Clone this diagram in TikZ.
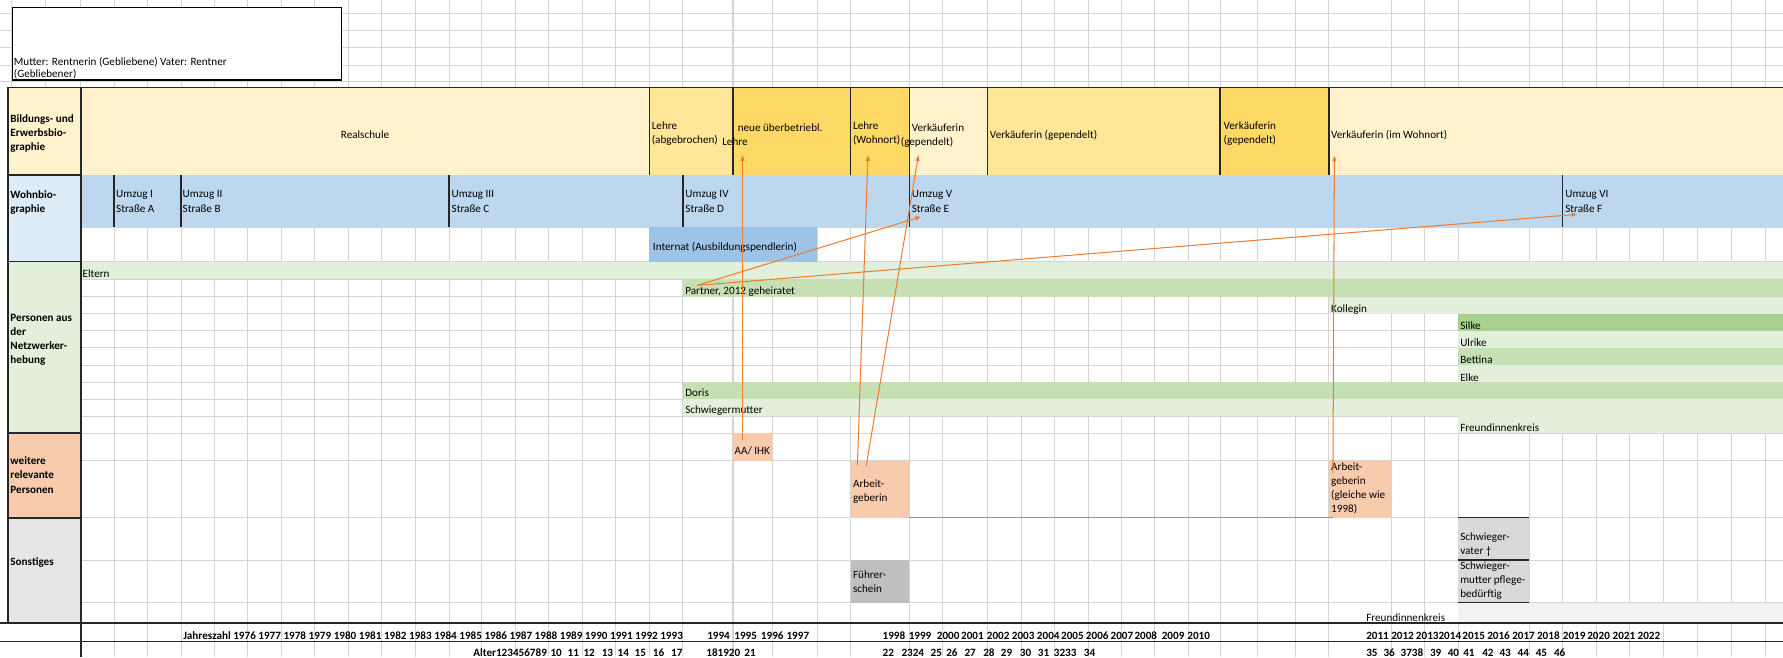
\documentclass[tikz,border=0pt]{standalone}
\usepackage{fontspec}
\setmainfont{Carlito}
\usetikzlibrary{arrows.meta}

\definecolor{gelbHell}{HTML}{FFF2CC}
\definecolor{gelbMittel}{HTML}{FFE699}
\definecolor{gelbGold}{HTML}{FFD966}
\definecolor{blauHell}{HTML}{DDEBF7}
\definecolor{blauWohn}{HTML}{BDD7EE}
\definecolor{blauInternat}{HTML}{9DC3E6}
\definecolor{gruenHell}{HTML}{E2EFDA}
\definecolor{gruenMittel}{HTML}{C6E0B4}
\definecolor{gruenDunkel}{HTML}{A9D08E}
\definecolor{orangeHell}{HTML}{F8CBAD}
\definecolor{pfeilOrange}{HTML}{ED7D31}
\definecolor{grauLabel}{HTML}{E7E6E6}
\definecolor{grauBox}{HTML}{D9D9D9}
\definecolor{grauDunkel}{HTML}{BFBFBF}
\definecolor{grauBand}{HTML}{F2F2F2}
\definecolor{gitterGrau}{HTML}{D4D4D4}

\newcommand{\zellfont}{\fontsize{9.8}{12.5}\selectfont}
\newcommand{\spalten}{71,100.4,129.8,159.2,188.6,218,247.4,276.8,306.2,335.6,365,395,423.8,453.2,482.6,512,541.4,571,600.5,644.6,679,718.5,748,799.6,829,868.4,898,927.4,957,986,1015.6,1045,1073,1105.5,1139,1168.6,1223.3,1252.7,1282.3,1345,1374.2,1403.7,1433,1463,1492.4,1522.5,1552.8}
\newcommand{\zeilen}{200,230,245.7,260.9,276,291,306,321,336,351,366,381,405.3,455.3,492.5,530}

\tikzset{
  txt/.style={inner sep=0pt, anchor=north west, align=left, yshift=5.5pt,
    font=\zellfont, execute at begin node=\strut},
  kopf/.style={txt, font=\zellfont\bfseries},
  gitter/.style={draw=gitterGrau, line width=0.9pt},
  rahmen/.style={draw=black!85, line width=1.4pt},
  trenner/.style={draw=black!85, line width=1.2pt},
  pfeil/.style={draw=pfeilOrange, line width=0.9pt},
}

\begin{document}
\begin{tikzpicture}[x=1pt, y=-1pt, >={Triangle[length=5pt,width=3.6pt]}]
\useasboundingbox (0,0) rectangle (1568,578);
\fill[white] (0,0) rectangle (1568,578);

% Gitter
\foreach \x in \spalten \draw[gitter] (\x,0) -- (\x,578);
\foreach \x in {10,40.4} \draw[gitter] (\x,0) -- (\x,77);
\foreach \y in {11.7,26.4,41.9,57.2,71.5} \draw[gitter] (0,\y) -- (1568,\y);
\foreach \y in \zeilen \draw[gitter] (71,\y) -- (1568,\y);

% Kasten oben
\draw[line width=1.1pt, fill=white] (11,6.4) rectangle (300.6,70.4);
\node[txt, font=\fontsize{9.8}{11}\selectfont] (herkunft) at (12,55.3) {Mutter: Rentnerin (Gebliebene) Vater: Rentner\\(Gebliebener)};

% Bildungs- und Erwerbsbiographie
\fill[gelbHell] (71,77) rectangle (1568,154);
\fill[gelbMittel] (571,77) rectangle (644.6,154);
\fill[gelbGold] (644.6,77) rectangle (799.6,154);
\fill[gelbMittel] (868.4,77) rectangle (1073,154);
\fill[gelbGold] (1073,77) rectangle (1168.6,154);
\draw[trenner] (571,77) -- (571,154);
\draw[trenner] (644.6,77) -- (644.6,154);
\draw[trenner] (748,77) -- (748,154);
\draw[trenner] (868.4,77) -- (868.4,154);
\draw[trenner] (1073,77) -- (1073,154);
\draw[trenner] (1168.6,77) -- (1168.6,154);

% Wohnbiographie
\fill[blauWohn] (71,154) rectangle (1568,200);
\fill[blauInternat] (571,200) rectangle (718.5,230);
\draw[trenner] (100.4,154) -- (100.4,200);
\draw[trenner] (159.2,154) -- (159.2,200);
\draw[trenner] (395,154) -- (395,200);
\draw[trenner] (600.5,154) -- (600.5,200);
\draw[trenner] (799.6,77) -- (799.6,200);
\draw[trenner] (1374.2,154) -- (1374.2,200);

% Personen aus der Netzwerkerhebung
\fill[gruenHell] (71,230) rectangle (1568,245.7);
\fill[gruenMittel] (600.5,245.7) rectangle (1568,260.9);
\fill[gruenHell] (1168.6,260.9) rectangle (1568,276);
\fill[gruenDunkel] (1282.3,276) rectangle (1568,291);
\fill[gruenHell] (1282.3,291) rectangle (1568,306);
\fill[gruenMittel] (1282.3,306) rectangle (1568,321);
\fill[gruenHell] (1282.3,321) rectangle (1568,336);
\fill[gruenMittel] (600.5,336) rectangle (1568,351);
\fill[gruenHell] (600.5,351) rectangle (1568,366);
\fill[gruenHell] (1282.3,366) rectangle (1568,381);

% weitere relevante Personen
\fill[orangeHell] (644.6,381) rectangle (679,405.3);
\fill[orangeHell] (748,405.3) rectangle (799.6,455.3);
\fill[orangeHell] (1168.6,405.3) rectangle (1223.3,455.3);

% Sonstiges
\fill[grauDunkel] (748,492.5) rectangle (799.6,530);
\fill[grauBox] (1282.3,455.3) rectangle (1345,530);
\draw[trenner] (1282.3,455.3) -- (1345,455.3);
\draw[trenner] (1282.3,492.5) -- (1345,492.5);
\draw[trenner] (1282.3,530) -- (1345,530);
\fill[grauBand] (1282.3,530) rectangle (1568,548);

% Beschriftungsspalte
\draw[rahmen, fill=gelbHell] (7,77) rectangle (71,154);
\draw[rahmen, fill=blauHell] (7,154) rectangle (71,230);
\draw[rahmen, fill=gruenHell] (7,230) rectangle (71,381);
\draw[rahmen, fill=orangeHell] (7,381) rectangle (71,455.3);
\draw[rahmen, fill=grauLabel] (7,455.3) rectangle (71,548);
\draw[rahmen] (7,76.8) -- (1568,76.8);
\draw[rahmen] (71,76.8) -- (71,578);
\draw[rahmen] (0,548) -- (1568,548);
\draw[rahmen] (0,564) -- (1568,564);

\node[kopf] (bildung) at (9,106) {Bildungs- und\\Erwerbsbio-\\graphie};
\node[kopf] (wohnen) at (9,173) {Wohnbio-\\graphie};
\node[kopf] (personen) at (9,281.4) {Personen aus\\der\\Netzwerker-\\hebung};
\node[kopf] (weitere) at (9,407) {weitere\\relevante\\Personen};
\node[kopf] (sonstiges) at (9,494) {Sonstiges};

% Texte Bildung
\node[txt, anchor=north] (realschule) at (321,118.7) {Realschule};
\node[txt] (lehreAb) at (573,112.3) {Lehre\\(abgebrochen)};
\node[txt] (lehreNeu) at (648.6,112.3) {neue überbetriebl.};
\node[txt] (lehreNeuB) at (635,124.6) {Lehre};
\node[txt] (lehreWohn) at (750,112.3) {Lehre\\(Wohnort)};
\node[txt] (verkA) at (801.7,112.3) {Verkäuferin};
\node[txt] (verkAb) at (792,124.6) {(gependelt)};
\node[txt] (verkB) at (870.4,118.7) {Verkäuferin (gependelt)};
\node[txt] (verkC) at (1075.9,112.3) {Verkäuferin\\(gependelt)};
\node[txt] (verkD) at (1170.4,118.7) {Verkäuferin (im Wohnort)};

% Texte Wohnen
\node[txt] (umzugI) at (102,173) {Umzug I\\Straße A};
\node[txt] (umzugII) at (160.5,173) {Umzug II\\Straße B};
\node[txt] (umzugIII) at (397,173) {Umzug III\\Straße C};
\node[txt] (umzugIV) at (602.6,173) {Umzug IV\\Straße D};
\node[txt] (umzugV) at (801.7,173) {Umzug V\\Straße E};
\node[txt] (umzugVI) at (1376.4,173) {Umzug VI\\Straße F};
\node[txt] (internat) at (574,217) {Internat (Ausbildungspendlerin)};

% Texte Personen
\node[txt] (eltern) at (72.5,240.4) {Eltern};
\node[txt] (partner) at (602.5,255.6) {Partner, 2012 geheiratet};
\node[txt] (kollegin) at (1170.5,271.5) {Kollegin};
\node[txt] (silke) at (1284,286.4) {Silke};
\node[txt] (ulrike) at (1284,301.4) {Ulrike};
\node[txt] (bettina) at (1284,316.6) {Bettina};
\node[txt] (elke) at (1284,331.8) {Elke};
\node[txt] (doris) at (602.5,345.3) {Doris};
\node[txt] (schwiegermutter) at (602.5,360) {Schwiegermutter};
\node[txt] (freundinnen) at (1284,376.1) {Freundinnenkreis};

% Texte weitere / Sonstiges
\node[txt] (aaihk) at (645.9,396.4) {AA/ IHK};
\node[txt] (arbeitA) at (750,427.1) {Arbeit-\\geberin};
\node[txt] (arbeitB) at (1170.5,411.9) {Arbeit-\\geberin\\(gleiche wie\\1998)};
\node[txt] (fuehrer) at (750,507.2) {Führer-\\schein};
\node[txt] (schwvater) at (1284,474) {Schwieger-\\vater †};
\node[txt] (schwmutter) at (1284,499.2) {Schwieger-\\mutter pflege-\\bedürftig};
\node[txt] (freundinnenB) at (1201.3,543) {Freundinnenkreis};

% Jahreszahl und Alter
\node[kopf] (jahre) at (161,558.5) {Jahreszahl 1976 1977 1978 1979 1980 1981 1982 1983 1984 1985 1986 1987 1988 1989 1990 1991 1992 1993};
\foreach \x/\j in {621.8/1994,645.6/1995,669/1996,691.5/1997,776/1998,799/1999,823.7/2000,845/2001,867.7/2002,889.7/2003,911.7/2004,933/2005,954.8/2006,976.5/2007,997.5/2008,1021.5/2009,1044/2010,1201.3/2011,1223.3/2012,1245/20132014,1285.8/2015,1307.7/2016,1329.7/2017,1351.5/2018,1374.2/2019,1395.7/2020,1418/2021,1440/2022}
  \node[kopf] (jahr\j) at (\x,558.5) {\j};
\node[kopf] (alter) at (416,573.7) {Alter123456789};
\foreach \x/\a in {484/10,499/11,513/12,529/13,543/14,558/15,574/16,590/17,621/181920,654.5/21,776/22,792.6/2324,818.2/25,832/26,848/27,864.5/28,880/29,896.7/30,912.5/31,926.6/3233,953/34,1201.3/35,1216.5/36,1231.5/3738,1257.4/39,1273/40,1286.6/41,1303.3/42,1318.5/43,1334.5/44,1350.4/45,1366.4/46}
  \node[kopf] (alter\a) at (\x,573.7) {\a};

% Verbindungen
\coordinate (vonAA) at (653,387);
\coordinate (zuLehreNeu) at (653,136.5);
\coordinate (vonArbeitA) at (754,409);
\coordinate (zuLehreWohn) at (763.3,136.5);
\coordinate (vonArbeitAb) at (761.7,410);
\coordinate (zuVerkA) at (807.7,136.5);
\coordinate (vonPartner) at (613,251);
\coordinate (zuUmzugV) at (810,190.6);
\coordinate (zuUmzugVI) at (1387,188.5);
\coordinate (vonArbeitB) at (1172.2,416);
\coordinate (zuVerkD) at (1173.5,137);
\coordinate (eckeA) at (799.6,455.3);
\coordinate (eckeB) at (1172.2,455.3);
\draw[pfeil, ->] (vonAA) -- (zuLehreNeu);
\draw[pfeil, ->] (vonArbeitA) -- (zuLehreWohn);
\draw[pfeil, ->] (vonArbeitAb) -- (zuVerkA);
\draw[pfeil, ->] (vonPartner) -- (zuUmzugV);
\draw[pfeil, ->] (vonPartner) -- (zuUmzugVI);
\draw[pfeil, ->] (vonArbeitB) -- (zuVerkD);
\draw[pfeil] (eckeA) -- (eckeB);
\end{tikzpicture}
\end{document}
